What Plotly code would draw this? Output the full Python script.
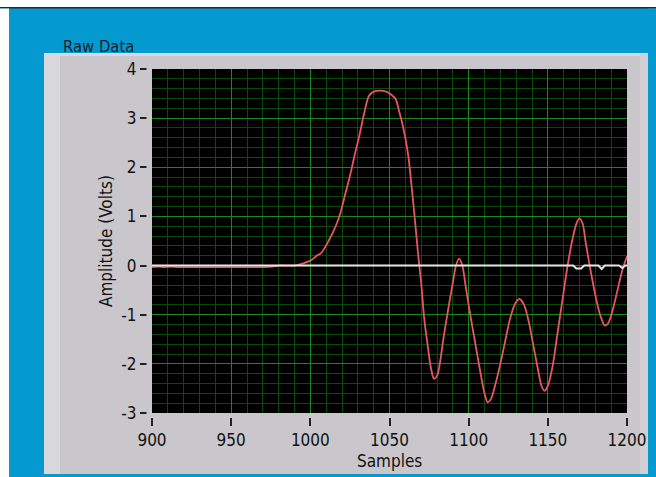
import plotly.graph_objects as go

red_samples = [900, 904, 908, 912, 916, 920, 930, 940, 950, 960, 970, 976, 980, 990,
               994, 1000, 1004, 1007, 1012, 1016, 1019, 1022, 1025, 1028, 1031, 1034,
               1037, 1040, 1044, 1048, 1051, 1054, 1056, 1058, 1060, 1062, 1064, 1066,
               1068, 1070, 1072, 1074, 1076, 1078, 1080, 1082, 1084, 1087, 1090, 1092,
               1094, 1096, 1098, 1101, 1104, 1107, 1110, 1112, 1114, 1117, 1120, 1123,
               1126, 1129, 1132, 1135, 1138, 1141, 1144, 1146, 1148, 1150, 1153, 1156,
               1159, 1162, 1165, 1168, 1170, 1172, 1174, 1177, 1180, 1183, 1186, 1188,
               1191, 1194, 1197, 1200]
red_volts = [-0.03, -0.02, -0.03, -0.02, -0.03, -0.03, -0.03, -0.03, -0.03, -0.03, -0.03,
             -0.02, 0.0, 0.0,
             0.03, 0.1, 0.2, 0.26, 0.53, 0.8, 1.07, 1.45, 1.82, 2.25, 2.65, 3.1,
             3.45, 3.54, 3.56, 3.54, 3.48, 3.38, 3.15, 2.9, 2.6, 2.2, 1.6, 0.95,
             0.25, -0.35, -1.1, -1.6, -2.05, -2.3, -2.25, -1.95, -1.5, -0.9, -0.35, 0.0,
             0.14, 0.0, -0.4, -1.0, -1.55, -2.1, -2.6, -2.78, -2.72, -2.4, -2.0, -1.55,
             -1.1, -0.8, -0.68, -0.8, -1.15, -1.65, -2.15, -2.45, -2.55, -2.45, -2.05, -1.4,
             -0.75, -0.1, 0.45, 0.85, 0.96, 0.85, 0.45, -0.1, -0.6, -1.0, -1.22, -1.18,
             -0.9, -0.5, -0.1, 0.19]

# Baseline (white) channel
white_samples = [900, 1000, 1100, 1160, 1166, 1168, 1171, 1173, 1182, 1184, 1186, 1195, 1197, 1199, 1200]
white_volts = [0.0, 0.0, 0.0, 0.0, 0.0, -0.06, -0.06, 0.0, 0.0, -0.07, 0.0, 0.0, -0.05, 0.0, 0.0]

x_ticks = [900, 950, 1000, 1050, 1100, 1150, 1200]
y_ticks = [-3, -2, -1, 0, 1, 2, 3, 4]

W, H = 656, 477
L, R, T, B = 152, 29, 69, 64
PW, PH = W - L - R, H - T - B

BLUE = "#0499cf"
PANEL = "#c9c7cc"
FONT = "DejaVu Sans Condensed, Liberation Sans, sans-serif"


def px(x):
    return (x - L) / PW


def py(y):
    return (H - B - y) / PH


def rect(x0, y0, x1, y1, color, layer="below"):
    return dict(type="rect", xref="paper", yref="paper",
                x0=px(x0), x1=px(x1), y0=py(y1), y1=py(y0),
                fillcolor=color, line=dict(width=0), layer=layer)


fig = go.Figure()
fig.add_trace(go.Scatter(x=red_samples, y=red_volts, mode="lines",
                         line=dict(color="#e8575d", width=1.8, shape="spline", smoothing=0.8),
                         hoverinfo="skip"))
fig.add_trace(go.Scatter(x=white_samples, y=white_volts, mode="lines",
                         line=dict(color="#e6e6e6", width=2),
                         hoverinfo="skip"))

shapes = [
    rect(0, 0, W, 7, "#ffffff"),
    rect(0, 7, W, 8.5, "#1b2b3b"),
    rect(0, 8.5, 9, H, "#ffffff"),
    rect(648, 8.5, W, H, BLUE, layer="above"),
    rect(44, 53, 648, 474, PANEL),
    rect(44, 53, 648, 56, "#d9d8dd"),
    rect(44, 53, 60, 474, "#d9d8dd"),
    rect(640, 53, 648, 474, "#d1d0d5"),
    rect(L, T, L + PW, T + PH, "#000000"),
    # gap between tick marks and plot frame
    rect(146.5, T - 4, L - 0.5, T + PH + 4, PANEL, layer="above"),
    rect(L - 4, T + PH + 0.5, L + PW + 4, T + PH + 5, PANEL, layer="above"),
]

annotations = [
    dict(text="Raw Data", x=px(61), y=py(46), xanchor="left", yanchor="middle",
         font=dict(size=16.5, color="#17222e", family=FONT)),
    dict(text="Samples", x=px(389), y=py(461), xanchor="center", yanchor="middle",
         font=dict(size=17, color="#111111", family=FONT)),
    dict(text="Amplitude (Volts)", x=px(106), y=py(241), xanchor="center", yanchor="middle",
         textangle=-90, font=dict(size=17, color="#111111", family=FONT)),
]
for a in annotations:
    a.update(xref="paper", yref="paper", showarrow=False)

fig.update_layout(
    width=W, height=H, autosize=False,
    margin=dict(l=L, r=R, t=T, b=B, pad=0, autoexpand=False),
    paper_bgcolor=BLUE, plot_bgcolor="#000000",
    showlegend=False,
    shapes=shapes, annotations=annotations,
    font=dict(family=FONT, size=17, color="#111111"),
)
fig.update_xaxes(range=[900, 1200], tickvals=x_ticks, ticktext=[str(v) for v in x_ticks],
                 ticks="outside", ticklen=12, tickwidth=1.5, tickcolor="#222222",
                 showgrid=True, gridcolor="#178a17", gridwidth=1,
                 minor=dict(tick0=900, dtick=10, showgrid=True, gridcolor="#0a4a0a",
                            gridwidth=1, ticks=""),
                 zeroline=False, showline=False, fixedrange=True, automargin=False)
fig.update_yaxes(range=[-3, 4], tickvals=y_ticks, ticktext=[str(v) for v in y_ticks],
                 ticks="outside", ticklen=11, tickwidth=1.5, tickcolor="#222222",
                 showgrid=True, gridcolor="#178a17", gridwidth=1,
                 minor=dict(tick0=0, dtick=0.2, showgrid=True, gridcolor="#0a4a0a",
                            gridwidth=1, ticks=""),
                 zeroline=False, showline=False, fixedrange=True, automargin=False)

fig.write_html("out.html", config={"responsive": False, "displayModeBar": False})
